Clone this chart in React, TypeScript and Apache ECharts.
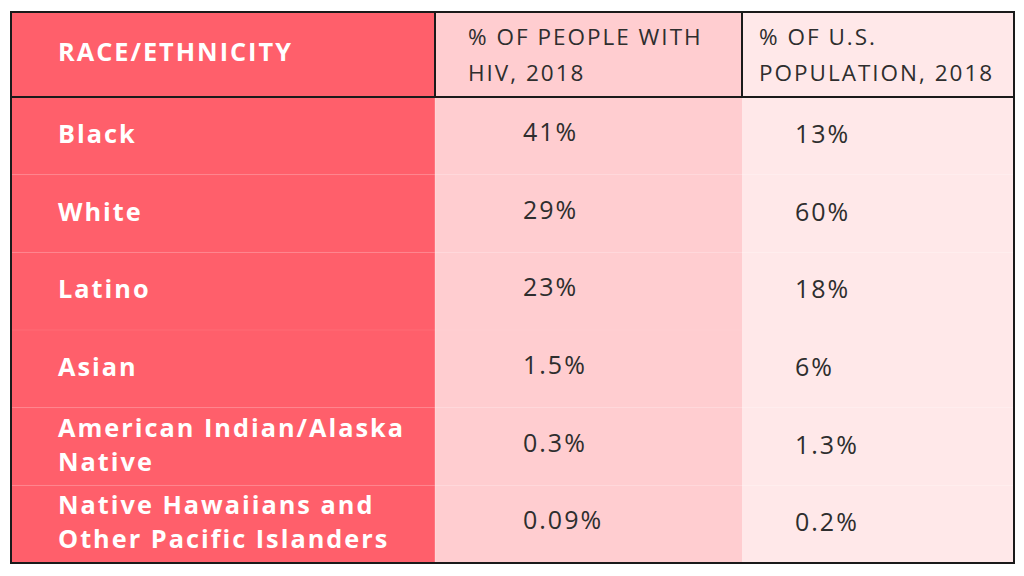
import React, { useEffect, useRef } from "react";
import * as echarts from "echarts";

// ---- data ----
const headers = ["RACE/ETHNICITY", "% OF PEOPLE WITH HIV, 2018", "% OF U.S. POPULATION, 2018"];
const categories = [
  "Black",
  "White",
  "Latino",
  "Asian",
  "American Indian/Alaska Native",
  "Native Hawaiians and Other Pacific Islanders",
];
const hivShare = [41, 29, 23, 1.5, 0.3, 0.09];
const popShare = [13, 60, 18, 6, 1.3, 0.2];

// ---- layout / style ----
const TABLE_LEFT = 11;
const TABLE_RIGHT = 1014;
const TABLE_TOP = 12;
const HEADER_BOTTOM = 97;
const TABLE_BOTTOM = 563;
const COL1_END = 435;
const COL2_END = 742;
const RED = "#ff5f6b";
const PINK = "#ffcdd0";
const LIGHT = "#ffe8e9";
const DARK = "#2e2e2e";
const BORDER = "#1a1a1a";
const FONT = "'Open Sans', 'Noto Sans', sans-serif";
const BOLD_SIZE = 25.3;

export default function App() {
  const ref = useRef<HTMLDivElement>(null);

  useEffect(() => {
    if (!ref.current) return;
    const chart = echarts.init(ref.current, undefined, { renderer: "svg" });
    const W = TABLE_RIGHT - TABLE_LEFT;
    const f1 = (COL1_END - TABLE_LEFT) / W;
    const f2 = (COL2_END - TABLE_LEFT) / W;

    const renderItem = (params: any, api: any) => {
      const i = api.value(0);
      const cy = api.coord([0, i])[1];
      const h = api.size([0, 1])[1];
      const cs = params.coordSys;
      const x0 = cs.x;
      const x1 = cs.x + cs.width * f1;
      const x2 = cs.x + cs.width * f2;
      const x3 = cs.x + cs.width;
      const top = cy - h / 2;
      const children: any[] = [
        { type: "rect", shape: { x: x0, y: top, width: x1 - x0, height: h }, style: { fill: RED } },
        { type: "rect", shape: { x: x1, y: top, width: x2 - x1, height: h }, style: { fill: PINK } },
        { type: "rect", shape: { x: x2, y: top, width: x3 - x2, height: h }, style: { fill: LIGHT } },
        {
          type: "line",
          shape: { x1: x1, y1: top, x2: x1, y2: top + h },
          style: { stroke: "rgba(255,255,255,0.25)", lineWidth: 1 },
        },
      ];
      if (i > 0) {
        children.push({
          type: "line",
          shape: { x1: x0, y1: top, x2: x3, y2: top },
          style: { stroke: "rgba(255,255,255,0.08)", lineWidth: 1 },
        });
      }
      children.push(
        {
          type: "text",
          x: x0 + 47,
          y: cy - 3,
          style: {
            text: categories[i],
            fill: "#ffffff",
            fontFamily: FONT,
            fontWeight: "bold",
            fontSize: BOLD_SIZE,
            lineHeight: 34,
            width: 330,
            overflow: "break",
            align: "left",
            verticalAlign: "middle",
          },
        },
        {
          type: "text",
          x: x1 + 88,
          y: cy - 5,
          style: {
            text: `${api.value(1)}%`,
            fill: DARK,
            fontFamily: FONT,
            fontSize: 25,
            align: "left",
            verticalAlign: "middle",
          },
        },
        {
          type: "text",
          x: x2 + 53,
          y: cy - 3,
          style: {
            text: `${api.value(2)}%`,
            fill: DARK,
            fontFamily: FONT,
            fontSize: 25,
            align: "left",
            verticalAlign: "middle",
          },
        }
      );
      return { type: "group", children };
    };

    const headerText = (text: string, x: number, y: number, bold: boolean) => ({
      type: "text",
      x,
      y,
      z: 50,
      style: {
        text,
        fill: bold ? "#ffffff" : DARK,
        fontFamily: FONT,
        fontWeight: bold ? "bold" : "normal",
        fontSize: bold ? BOLD_SIZE : 22.5,
        lineHeight: 36,
        width: bold ? 360 : 240,
        overflow: "break",
        align: "left",
        verticalAlign: "middle",
      },
    });

    chart.setOption({
      animation: false,
      backgroundColor: "#ffffff",
      grid: {
        left: TABLE_LEFT,
        top: HEADER_BOTTOM,
        width: TABLE_RIGHT - TABLE_LEFT,
        height: TABLE_BOTTOM - HEADER_BOTTOM,
        containLabel: false,
      },
      xAxis: { type: "value", min: 0, max: 1, show: false },
      yAxis: { type: "category", data: categories, inverse: true, show: false },
      series: [
        {
          type: "custom",
          renderItem,
          encode: { y: 0 },
          data: categories.map((_, i) => [i, hivShare[i], popShare[i]]),
          silent: true,
        },
      ],
      graphic: [
        {
          type: "rect",
          z: 40,
          shape: { x: TABLE_LEFT, y: TABLE_TOP, width: COL1_END - TABLE_LEFT, height: HEADER_BOTTOM - TABLE_TOP },
          style: { fill: RED },
        },
        {
          type: "rect",
          z: 40,
          shape: { x: COL1_END, y: TABLE_TOP, width: COL2_END - COL1_END, height: HEADER_BOTTOM - TABLE_TOP },
          style: { fill: PINK },
        },
        {
          type: "rect",
          z: 40,
          shape: { x: COL2_END, y: TABLE_TOP, width: TABLE_RIGHT - COL2_END, height: HEADER_BOTTOM - TABLE_TOP },
          style: { fill: LIGHT },
        },
        headerText(headers[0], TABLE_LEFT + 47, 51, true),
        headerText(headers[1], COL1_END + 33, 54, false),
        headerText(headers[2], COL2_END + 17, 54, false),
        {
          type: "line",
          z: 60,
          shape: { x1: TABLE_LEFT, y1: HEADER_BOTTOM, x2: TABLE_RIGHT, y2: HEADER_BOTTOM },
          style: { stroke: BORDER, lineWidth: 2 },
        },
        {
          type: "line",
          z: 60,
          shape: { x1: COL1_END, y1: TABLE_TOP, x2: COL1_END, y2: HEADER_BOTTOM },
          style: { stroke: BORDER, lineWidth: 2 },
        },
        {
          type: "line",
          z: 60,
          shape: { x1: COL2_END, y1: TABLE_TOP, x2: COL2_END, y2: HEADER_BOTTOM },
          style: { stroke: BORDER, lineWidth: 2 },
        },
        {
          type: "rect",
          z: 60,
          shape: {
            x: TABLE_LEFT,
            y: TABLE_TOP,
            width: TABLE_RIGHT - TABLE_LEFT,
            height: TABLE_BOTTOM - TABLE_TOP,
          },
          style: { fill: "none", stroke: BORDER, lineWidth: 2 },
        },
      ],
    });

    return () => chart.dispose();
  }, []);

  return (
    <div
      ref={ref}
      style={{
        position: "fixed",
        left: 0,
        top: 0,
        width: 1024,
        height: 576,
        letterSpacing: "2px",
      }}
    />
  );
}
